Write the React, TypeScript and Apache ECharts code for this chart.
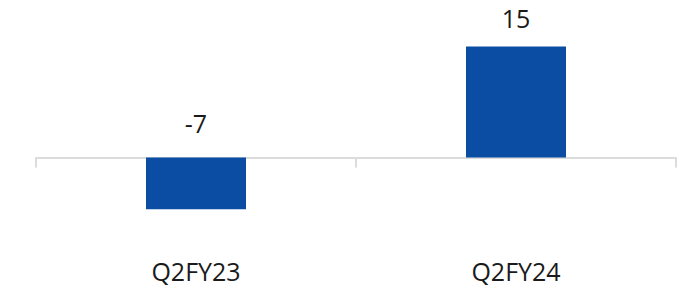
import React, { useEffect, useRef } from "react";
import * as echarts from "echarts";

const categories = ["Q2FY23", "Q2FY24"];
const values = [-7, 15];

export default function App() {
  const ref = useRef<HTMLDivElement>(null);
  useEffect(() => {
    if (!ref.current) return;
    const chart = echarts.init(ref.current, null, { renderer: "svg" });
    const font = "'Open Sans', sans-serif";
    chart.setOption({
      animation: false,
      grid: { left: 36, right: 13, top: 9.5, bottom: 47.7 },
      xAxis: [
        {
          type: "category",
          data: categories,
          axisLine: { onZero: true, lineStyle: { color: "#dcdcdc", width: 2 } },
          axisTick: { show: true, length: 10, lineStyle: { color: "#dcdcdc", width: 2 } },
          axisLabel: { show: false },
        },
        {
          type: "category",
          data: categories,
          position: "bottom",
          axisLine: { show: false, onZero: false },
          axisTick: { show: false },
          axisLabel: { show: true, margin: 12, fontSize: 25, color: "#1a1a1a", fontFamily: font },
        },
      ],
      yAxis: { type: "value", min: -12, max: 20, show: false, splitLine: { show: false } },
      series: [
        {
          type: "bar",
          xAxisIndex: 0,
          barWidth: 100,
          data: values.map((v) => ({
            value: v,
            label: { distance: v < 0 ? 22 : 16 },
          })),
          itemStyle: { color: "#0a4da2" },
          label: {
            show: true,
            position: "top",
            fontSize: 25,
            color: "#1a1a1a",
            fontFamily: font,
          },
        },
      ],
    });
    return () => chart.dispose();
  }, []);
  return <div ref={ref} style={{ width: 689, height: 294, margin: -8 }} />;
}
